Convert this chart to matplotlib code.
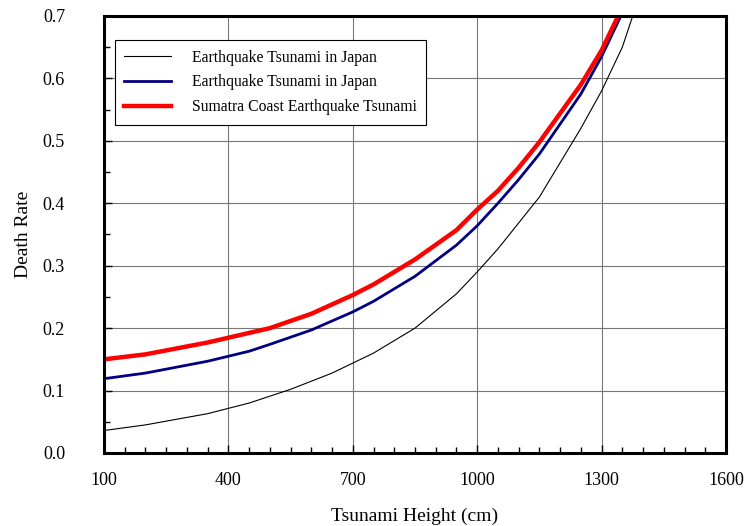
import matplotlib.pyplot as plt
from matplotlib.ticker import MultipleLocator

plt.rcParams['font.family'] = ['Liberation Serif', 'DejaVu Serif']

x_black = [100, 200, 350, 450, 550, 650, 750, 850, 950, 1000, 1050, 1150, 1250, 1300, 1350, 1375]
y_black = [0.036, 0.045, 0.063, 0.080, 0.102, 0.128, 0.160, 0.200, 0.255, 0.290, 0.327, 0.410, 0.520, 0.580, 0.650, 0.700]

x_blue = [100, 200, 350, 450, 500, 600, 700, 750, 850, 950, 1000, 1050, 1100, 1150, 1250, 1300, 1350]
y_blue = [0.119, 0.128, 0.147, 0.163, 0.174, 0.197, 0.226, 0.243, 0.283, 0.333, 0.364, 0.400, 0.438, 0.479, 0.575, 0.635, 0.705]

x_red = [100, 200, 350, 500, 600, 700, 750, 850, 950, 1000, 1050, 1100, 1150, 1250, 1300, 1340]
y_red = [0.150, 0.158, 0.177, 0.200, 0.223, 0.253, 0.270, 0.310, 0.357, 0.390, 0.420, 0.457, 0.498, 0.590, 0.645, 0.700]

labels = ['Earthquake Tsunami in Japan', 'Earthquake Tsunami in Japan',
          'Sumatra Coast Earthquake Tsunami']
x_ticks = [100, 400, 700, 1000, 1300, 1600]

fig = plt.figure(figsize=(7.44, 5.26), dpi=100)
ax = fig.add_axes([0.1398, 0.1388, 0.836, 0.8308])

ax.plot(x_black, y_black, color='black', lw=0.8, label=labels[0])
ax.plot(x_blue, y_blue, color='#000080', lw=2.0, label=labels[1])
ax.plot(x_red, y_red, color='#ff0000', lw=3.2, label=labels[2])

ax.set_xlim(100, 1600)
ax.set_ylim(0, 0.7)
ax.set_xticks(x_ticks)
ax.xaxis.set_minor_locator(MultipleLocator(50))
ax.yaxis.set_major_locator(MultipleLocator(0.1))
ax.yaxis.set_minor_locator(MultipleLocator(0.05))
ax.yaxis.set_major_formatter(lambda v, p: f'{v:.1f}')

ax.grid(True, which='major', color='#777777', lw=0.8)
ax.tick_params(which='major', direction='in', length=6, width=1, labelsize=13)
ax.tick_params(which='minor', direction='in', length=4, width=1)
ax.tick_params(axis='x', which='major', pad=14)
ax.tick_params(axis='y', which='major', pad=28)
for s in ax.spines.values():
    s.set_linewidth(2.2)

ax.set_xlabel('Tsunami Height (cm)', fontsize=14, labelpad=13)
ax.set_ylabel('Death Rate', fontsize=14, labelpad=8)

leg = ax.legend(loc='upper left', bbox_to_anchor=(0.005, 0.962), fontsize=11.3,
                fancybox=False, framealpha=1, edgecolor='black',
                handlelength=3.0, borderpad=0.6, labelspacing=0.55,
                handletextpad=1.3)
leg.get_frame().set_linewidth(0.8)

fig.savefig('out.png', dpi=100)
